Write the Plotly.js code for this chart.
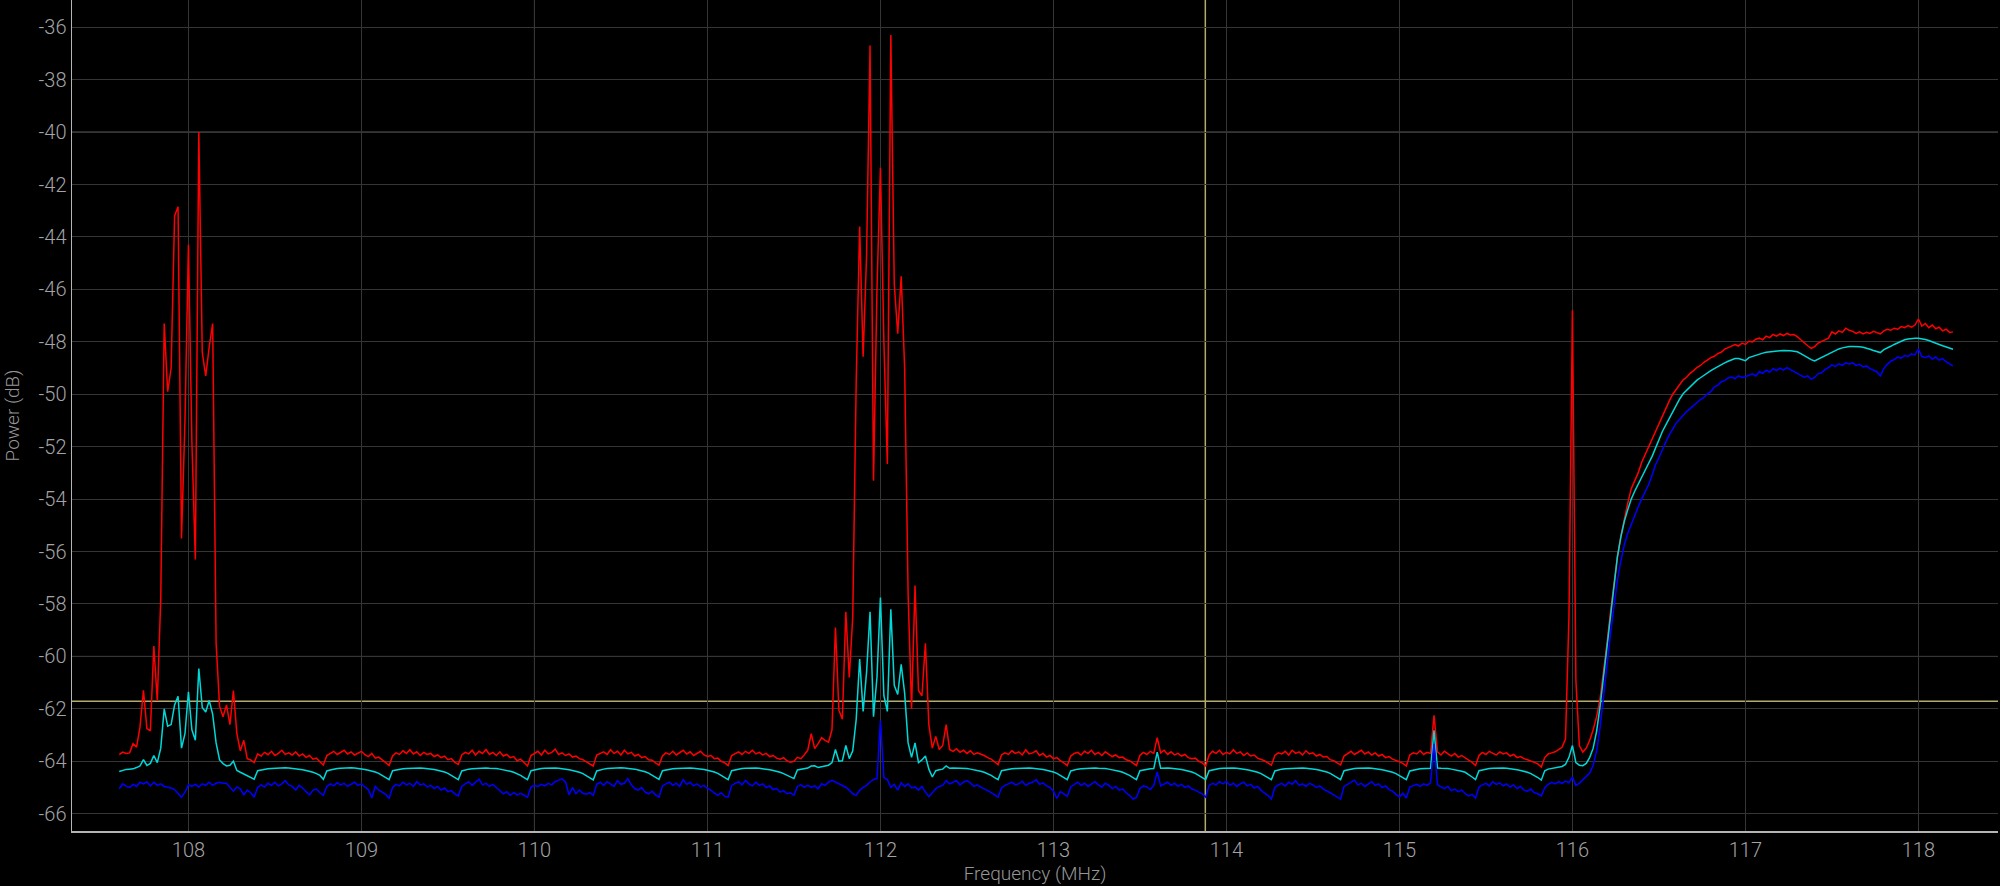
<!DOCTYPE html>
<html><head><meta charset="utf-8">
<script src="https://cdn.plot.ly/plotly-3.0.1.min.js"></script>
<style>html,body{margin:0;padding:0;background:#000;}#chart{width:2000px;height:886px;}</style>
</head><body><div id="chart"></div>
<script>
// Spectrum sampling (MHz)
const freqStart = 107.6;
const freqStep = 0.02;

// Red trace (dB), one value per 0.02 MHz from 107.60 to 118.20
const redTrace = [
-63.75,-63.65,-63.70,-63.68,-63.33,-63.46,-62.70,-61.29,-62.75,-62.84,
-59.60,-61.70,-57.80,-47.30,-49.90,-49.00,-43.20,-42.85,-55.50,-51.00,
-44.30,-51.80,-56.30,-40.00,-48.40,-49.30,-48.20,-47.30,-59.50,-61.90,
-62.30,-61.85,-62.60,-61.30,-62.95,-63.60,-63.20,-63.90,-63.95,-64.05,
-63.72,-63.80,-63.66,-63.75,-63.62,-63.78,-63.70,-63.58,-63.74,-63.68,
-63.76,-63.64,-63.80,-63.72,-63.85,-63.78,-63.92,-63.88,-64.02,-64.14,
-63.78,-63.70,-63.62,-63.74,-63.66,-63.58,-63.72,-63.64,-63.76,-63.68,
-63.62,-63.75,-63.82,-63.70,-63.88,-63.84,-63.96,-64.05,-64.16,-63.80,
-63.68,-63.74,-63.60,-63.70,-63.56,-63.72,-63.64,-63.78,-63.66,-63.74,
-63.70,-63.82,-63.76,-63.86,-63.80,-63.94,-63.90,-64.04,-64.12,-63.76,
-63.66,-63.72,-63.58,-63.76,-63.62,-63.70,-63.55,-63.74,-63.66,-63.78,
-63.64,-63.80,-63.74,-63.86,-63.82,-63.98,-63.92,-64.06,-64.18,-63.78,
-63.70,-63.62,-63.76,-63.58,-63.72,-63.66,-63.54,-63.74,-63.68,-63.78,
-63.72,-63.84,-63.80,-63.90,-63.94,-64.02,-64.08,-64.18,-63.76,-63.70,
-63.64,-63.74,-63.56,-63.70,-63.62,-63.76,-63.58,-63.72,-63.66,-63.80,
-63.74,-63.86,-63.82,-63.94,-63.96,-64.06,-64.15,-63.80,-63.68,-63.74,
-63.62,-63.76,-63.66,-63.58,-63.72,-63.64,-63.78,-63.70,-63.62,-63.76,
-63.82,-63.78,-63.90,-63.88,-64.00,-64.06,-64.16,-63.78,-63.70,-63.64,
-63.74,-63.62,-63.70,-63.58,-63.72,-63.66,-63.76,-63.70,-63.82,-63.78,
-63.88,-63.92,-63.86,-63.98,-64.04,-64.00,-63.85,-63.90,-63.75,-63.58,
-62.95,-63.52,-63.33,-63.10,-63.20,-63.27,-62.80,-58.90,-62.05,-62.40,
-58.30,-60.80,-58.50,-49.50,-43.60,-48.57,-44.70,-36.70,-53.30,-46.00,
-41.36,-48.00,-52.66,-36.30,-45.80,-47.69,-45.50,-49.00,-57.60,-62.00,
-57.30,-61.30,-61.50,-59.50,-62.60,-63.50,-63.05,-63.55,-63.40,-62.60,
-63.55,-63.62,-63.52,-63.66,-63.58,-63.70,-63.60,-63.74,-63.68,-63.72,
-63.78,-63.86,-63.92,-64.02,-64.13,-63.76,-63.68,-63.74,-63.60,-63.70,
-63.64,-63.76,-63.56,-63.72,-63.68,-63.60,-63.78,-63.70,-63.84,-63.78,
-63.90,-63.86,-63.98,-64.06,-64.16,-63.80,-63.70,-63.66,-63.76,-63.62,
-63.70,-63.58,-63.74,-63.66,-63.78,-63.64,-63.72,-63.82,-63.76,-63.86,
-63.84,-63.94,-63.98,-64.08,-64.16,-63.78,-63.66,-63.74,-63.62,-63.70,
-63.10,-63.68,-63.58,-63.74,-63.64,-63.76,-63.70,-63.80,-63.74,-63.86,
-63.90,-63.88,-64.00,-64.06,-64.18,-63.76,-63.62,-63.70,-63.58,-63.74,
-63.66,-63.72,-63.56,-63.70,-63.64,-63.78,-63.68,-63.80,-63.76,-63.88,
-63.92,-63.98,-64.06,-64.15,-63.78,-63.68,-63.72,-63.62,-63.76,-63.58,
-63.70,-63.64,-63.76,-63.60,-63.72,-63.68,-63.80,-63.74,-63.84,-63.82,
-63.94,-63.98,-64.06,-64.14,-63.80,-63.70,-63.62,-63.74,-63.66,-63.58,
-63.72,-63.64,-63.76,-63.68,-63.80,-63.74,-63.86,-63.82,-63.92,-63.96,
-64.02,-64.08,-64.18,-63.76,-63.68,-63.72,-63.60,-63.74,-63.66,-63.70,
-62.25,-63.64,-63.76,-63.62,-63.72,-63.80,-63.70,-63.84,-63.78,-63.88,
-63.96,-64.04,-64.16,-63.78,-63.66,-63.74,-63.62,-63.70,-63.76,-63.64,
-63.72,-63.68,-63.80,-63.74,-63.86,-63.82,-63.90,-63.94,-63.98,-64.04,
-64.10,-64.22,-63.86,-63.72,-63.68,-63.64,-63.56,-63.47,-63.15,-58.50,
-46.80,-60.90,-63.40,-63.65,-63.50,-63.20,-62.80,-62.30,-61.60,-60.60,
-59.50,-58.30,-57.20,-56.20,-55.40,-54.75,-54.15,-53.60,-53.30,-53.00,
-52.60,-52.30,-52.00,-51.75,-51.45,-51.10,-50.80,-50.50,-50.25,-50.00,
-49.80,-49.65,-49.45,-49.35,-49.20,-49.10,-48.98,-48.90,-48.78,-48.70,
-48.60,-48.55,-48.45,-48.40,-48.28,-48.22,-48.15,-48.10,-48.16,-48.05,
-48.10,-47.98,-48.00,-47.90,-47.86,-47.92,-47.78,-47.84,-47.72,-47.78,
-47.70,-47.76,-47.68,-47.74,-47.72,-47.80,-47.92,-48.05,-48.15,-48.25,
-48.18,-48.05,-47.98,-47.92,-47.86,-47.62,-47.70,-47.58,-47.64,-47.48,
-47.56,-47.60,-47.68,-47.62,-47.70,-47.64,-47.68,-47.60,-47.66,-47.70,
-47.58,-47.52,-47.56,-47.48,-47.52,-47.42,-47.46,-47.38,-47.44,-47.36,
-47.13,-47.40,-47.30,-47.46,-47.36,-47.50,-47.44,-47.58,-47.52,-47.64,
-47.62
];

// Cyan trace (dB)
const cyanTrace = [
-64.39,-64.35,-64.31,-64.30,-64.29,-64.24,-64.18,-63.94,-64.16,-64.08,
-63.78,-64.05,-63.50,-62.00,-62.66,-62.60,-61.85,-61.52,-63.50,-62.95,
-61.35,-62.80,-63.20,-60.46,-61.95,-62.12,-61.68,-62.20,-63.30,-63.95,
-64.09,-64.18,-64.15,-64.00,-64.35,-64.42,-64.48,-64.55,-64.62,-64.68,
-64.36,-64.33,-64.31,-64.29,-64.28,-64.27,-64.26,-64.26,-64.25,-64.26,
-64.27,-64.28,-64.30,-64.32,-64.35,-64.38,-64.42,-64.47,-64.54,-64.69,
-64.37,-64.33,-64.30,-64.28,-64.27,-64.26,-64.25,-64.25,-64.26,-64.27,
-64.29,-64.31,-64.34,-64.37,-64.41,-64.46,-64.53,-64.61,-64.70,-64.36,
-64.33,-64.31,-64.29,-64.28,-64.27,-64.26,-64.26,-64.26,-64.27,-64.28,
-64.29,-64.31,-64.34,-64.37,-64.41,-64.46,-64.53,-64.61,-64.70,-64.37,
-64.33,-64.30,-64.29,-64.28,-64.27,-64.26,-64.26,-64.27,-64.27,-64.28,
-64.30,-64.32,-64.35,-64.38,-64.42,-64.47,-64.54,-64.62,-64.70,-64.36,
-64.33,-64.30,-64.28,-64.27,-64.26,-64.26,-64.26,-64.27,-64.28,-64.30,
-64.32,-64.35,-64.38,-64.42,-64.47,-64.54,-64.62,-64.71,-64.37,-64.33,
-64.30,-64.28,-64.27,-64.26,-64.25,-64.25,-64.26,-64.27,-64.28,-64.30,
-64.33,-64.36,-64.40,-64.45,-64.52,-64.60,-64.69,-64.36,-64.33,-64.31,
-64.29,-64.28,-64.27,-64.26,-64.26,-64.26,-64.27,-64.28,-64.29,-64.31,
-64.34,-64.37,-64.41,-64.46,-64.53,-64.61,-64.70,-64.36,-64.33,-64.30,
-64.28,-64.27,-64.26,-64.26,-64.26,-64.27,-64.28,-64.30,-64.32,-64.35,
-64.38,-64.42,-64.47,-64.54,-64.62,-64.66,-64.33,-64.30,-64.28,-64.26,
-64.18,-64.17,-64.24,-64.22,-64.18,-64.15,-64.05,-63.55,-64.00,-63.98,
-63.40,-63.90,-63.60,-62.40,-60.10,-62.10,-60.60,-58.30,-62.30,-60.80,
-57.75,-61.50,-62.10,-58.20,-61.10,-61.45,-60.30,-61.40,-63.30,-63.85,
-63.30,-64.05,-63.95,-63.80,-64.30,-64.60,-64.36,-64.32,-64.30,-64.18,
-64.27,-64.26,-64.26,-64.26,-64.27,-64.28,-64.30,-64.32,-64.35,-64.38,
-64.42,-64.47,-64.54,-64.62,-64.70,-64.36,-64.33,-64.30,-64.29,-64.28,
-64.27,-64.26,-64.26,-64.26,-64.27,-64.28,-64.29,-64.31,-64.34,-64.37,
-64.41,-64.46,-64.53,-64.61,-64.70,-64.37,-64.33,-64.30,-64.29,-64.28,
-64.27,-64.26,-64.26,-64.27,-64.27,-64.28,-64.30,-64.32,-64.35,-64.38,
-64.42,-64.47,-64.54,-64.62,-64.70,-64.36,-64.33,-64.31,-64.29,-64.28,
-63.65,-64.27,-64.26,-64.26,-64.27,-64.28,-64.29,-64.31,-64.34,-64.37,
-64.41,-64.46,-64.53,-64.61,-64.70,-64.36,-64.33,-64.30,-64.28,-64.27,
-64.26,-64.26,-64.26,-64.27,-64.28,-64.30,-64.32,-64.35,-64.38,-64.42,
-64.47,-64.54,-64.62,-64.70,-64.37,-64.33,-64.30,-64.29,-64.28,-64.27,
-64.26,-64.26,-64.26,-64.27,-64.28,-64.29,-64.31,-64.34,-64.37,-64.41,
-64.46,-64.53,-64.61,-64.70,-64.36,-64.33,-64.30,-64.28,-64.27,-64.26,
-64.26,-64.26,-64.27,-64.28,-64.30,-64.32,-64.35,-64.38,-64.42,-64.47,
-64.54,-64.62,-64.70,-64.37,-64.33,-64.31,-64.29,-64.28,-64.27,-64.27,
-62.82,-64.26,-64.27,-64.27,-64.28,-64.30,-64.32,-64.35,-64.38,-64.42,
-64.50,-64.60,-64.70,-64.36,-64.33,-64.30,-64.28,-64.27,-64.26,-64.26,
-64.26,-64.27,-64.28,-64.30,-64.32,-64.35,-64.38,-64.42,-64.47,-64.54,
-64.62,-64.72,-64.36,-64.30,-64.28,-64.26,-64.24,-64.20,-64.12,-63.85,
-63.40,-64.05,-64.15,-64.17,-64.08,-63.85,-63.50,-62.85,-61.90,-60.75,
-59.60,-58.35,-57.10,-56.20,-55.45,-54.85,-54.40,-54.00,-53.70,-53.42,
-53.15,-52.90,-52.64,-52.38,-52.05,-51.72,-51.42,-51.17,-50.92,-50.66,
-50.42,-50.18,-49.98,-49.84,-49.70,-49.57,-49.46,-49.37,-49.27,-49.19,
-49.10,-49.02,-48.94,-48.87,-48.80,-48.74,-48.68,-48.64,-48.64,-48.67,
-48.72,-48.60,-48.55,-48.50,-48.46,-48.43,-48.40,-48.38,-48.36,-48.35,
-48.34,-48.33,-48.33,-48.34,-48.36,-48.38,-48.45,-48.53,-48.60,-48.68,
-48.73,-48.66,-48.60,-48.55,-48.48,-48.40,-48.33,-48.27,-48.23,-48.20,
-48.18,-48.18,-48.18,-48.19,-48.21,-48.24,-48.28,-48.33,-48.37,-48.41,
-48.30,-48.22,-48.17,-48.10,-48.03,-47.97,-47.92,-47.89,-47.87,-47.86,
-47.86,-47.88,-47.91,-47.95,-47.99,-48.04,-48.10,-48.15,-48.20,-48.24,
-48.28
];

// Blue trace (dB)
const blueTrace = [
-65.05,-64.86,-64.95,-65.00,-64.88,-64.96,-64.80,-64.86,-64.78,-64.94,
-64.80,-64.92,-64.86,-64.96,-64.99,-65.02,-65.08,-65.24,-65.37,-65.18,
-64.90,-64.96,-64.88,-64.98,-64.86,-64.92,-64.80,-64.92,-64.84,-64.80,
-64.84,-64.84,-64.98,-65.14,-64.98,-65.05,-65.28,-65.10,-65.20,-65.37,
-65.00,-64.90,-64.98,-64.84,-64.92,-64.80,-64.94,-64.86,-64.74,-64.90,
-64.96,-65.10,-64.92,-65.02,-65.16,-65.28,-65.10,-65.06,-65.20,-65.30,
-64.96,-64.86,-64.94,-64.82,-64.90,-64.84,-64.96,-64.88,-64.80,-64.92,
-64.86,-64.98,-65.08,-65.40,-64.96,-65.10,-65.18,-65.26,-65.42,-65.00,
-64.88,-64.94,-64.80,-64.90,-64.84,-64.96,-64.78,-64.90,-64.86,-64.98,
-64.92,-65.04,-64.96,-65.10,-65.02,-65.16,-65.12,-65.24,-65.32,-64.96,
-64.86,-64.78,-64.92,-64.80,-64.68,-64.90,-64.84,-64.96,-64.88,-65.00,
-65.12,-65.24,-65.16,-65.30,-65.20,-65.28,-65.22,-65.30,-65.37,-64.98,
-64.92,-64.96,-64.88,-64.94,-64.84,-64.90,-64.78,-64.72,-64.67,-64.80,
-65.28,-65.00,-65.24,-65.10,-65.22,-65.26,-65.20,-65.30,-64.88,-64.80,
-64.92,-64.78,-64.86,-64.96,-64.74,-64.88,-64.84,-64.66,-64.90,-65.04,
-65.10,-65.00,-65.18,-65.24,-65.14,-65.28,-65.37,-64.94,-64.86,-64.80,
-64.92,-64.84,-64.96,-64.70,-64.88,-64.80,-64.94,-64.86,-64.98,-64.92,
-65.04,-65.10,-65.22,-65.30,-65.20,-65.34,-65.37,-64.92,-64.84,-64.78,
-64.90,-64.73,-64.86,-64.94,-64.80,-64.92,-64.86,-65.00,-64.94,-65.08,
-65.04,-65.18,-65.12,-65.24,-65.20,-65.30,-64.96,-64.90,-64.99,-64.92,
-64.99,-64.94,-65.05,-64.86,-64.92,-64.80,-64.73,-64.79,-64.88,-64.94,
-64.99,-65.10,-65.24,-65.30,-65.11,-65.00,-64.92,-64.79,-64.70,-64.66,
-62.45,-64.62,-64.70,-64.99,-64.88,-65.10,-64.82,-64.96,-64.86,-65.02,
-64.98,-65.10,-64.96,-65.18,-65.35,-65.20,-65.05,-64.96,-64.92,-64.74,
-64.86,-64.80,-64.74,-64.90,-64.80,-64.74,-64.82,-64.96,-64.90,-64.99,
-65.04,-65.12,-65.20,-65.28,-65.37,-65.02,-64.92,-64.86,-64.80,-64.90,
-64.86,-64.76,-64.92,-64.84,-64.80,-64.70,-64.88,-64.82,-64.94,-65.00,
-65.14,-65.42,-65.16,-65.24,-65.34,-64.98,-64.88,-64.80,-64.92,-64.84,
-64.96,-64.86,-64.78,-64.90,-64.98,-64.84,-64.92,-65.04,-64.96,-65.10,
-65.06,-65.20,-65.30,-65.44,-65.38,-65.04,-64.94,-64.98,-65.08,-64.92,
-64.41,-64.94,-64.86,-64.80,-64.92,-64.84,-64.96,-64.88,-65.00,-64.94,
-65.06,-65.10,-65.18,-65.24,-65.37,-64.92,-64.84,-64.90,-64.78,-64.86,
-64.76,-64.92,-64.84,-64.96,-64.86,-64.80,-64.94,-64.88,-65.02,-64.96,
-65.10,-65.22,-65.30,-65.44,-65.00,-64.90,-64.84,-64.94,-64.80,-64.88,
-64.74,-64.92,-64.86,-64.96,-64.84,-64.90,-65.00,-64.94,-65.06,-65.12,
-65.20,-65.28,-65.36,-65.44,-64.96,-64.88,-64.82,-64.72,-64.90,-64.84,
-64.96,-64.86,-64.78,-64.92,-64.86,-65.00,-64.94,-65.08,-65.14,-65.26,
-65.36,-65.22,-65.40,-64.98,-64.94,-64.88,-64.96,-64.86,-64.92,-64.82,
-63.33,-64.90,-64.98,-65.04,-64.96,-65.12,-65.06,-65.16,-65.10,-65.24,
-65.32,-65.26,-65.40,-64.98,-64.90,-64.84,-64.94,-64.78,-64.88,-64.82,
-64.94,-64.86,-64.98,-64.90,-65.04,-64.96,-65.10,-65.14,-65.06,-65.20,
-65.24,-65.32,-65.02,-64.88,-64.80,-64.86,-64.78,-64.84,-64.76,-64.82,
-64.60,-64.92,-64.84,-64.70,-64.58,-64.45,-64.15,-63.60,-62.70,-61.60,
-60.35,-59.15,-58.10,-57.10,-56.35,-55.75,-55.30,-54.95,-54.65,-54.30,
-54.00,-53.75,-53.45,-53.10,-52.70,-52.42,-52.10,-51.82,-51.55,-51.30,
-51.10,-50.95,-50.80,-50.66,-50.55,-50.42,-50.30,-50.20,-50.12,-49.98,
-49.90,-49.72,-49.66,-49.52,-49.48,-49.38,-49.34,-49.40,-49.30,-49.36,
-49.33,-49.28,-49.22,-49.30,-49.14,-49.20,-49.08,-49.16,-49.02,-49.10,
-49.00,-49.08,-48.98,-49.06,-49.12,-49.20,-49.28,-49.35,-49.30,-49.42,
-49.36,-49.22,-49.18,-49.06,-48.98,-48.88,-48.94,-48.84,-48.90,-48.80,
-48.84,-48.80,-48.90,-48.86,-48.96,-48.92,-49.02,-49.08,-49.14,-49.30,
-49.02,-48.86,-48.74,-48.68,-48.58,-48.62,-48.52,-48.56,-48.46,-48.50,
-48.28,-48.56,-48.60,-48.54,-48.66,-48.58,-48.70,-48.64,-48.76,-48.84,
-48.92
];

// Axis ticks
const xTickVals = [108,109,110,111,112,113,114,115,116,117,118];
const yTickVals = [-66,-64,-62,-60,-58,-56,-54,-52,-50,-48,-46,-44,-42,-40,-38,-36];
const yTickText = ['-66','-64','-62','-60','-58','-56','-54','-52','-50','-48','-46','-44','-42','-40','-38','-36'];

// Reference markers
const markerFreq = 113.878;
const markerLevel = -61.71;
const majorGridX = [110];
const majorGridY = [-60, -40];

const lineTrace = (vals, color) => ({
  type: 'scatter', mode: 'lines', y: vals, x0: freqStart, dx: freqStep,
  line: {color: color, width: 1.5}, hoverinfo: 'skip'
});

const shapes = [];
majorGridX.forEach(v => shapes.push({type:'line', xref:'x', yref:'paper', x0:v, x1:v, y0:0, y1:1, line:{color:'#727272', width:1}, layer:'between'}));
majorGridY.forEach(v => shapes.push({type:'line', xref:'paper', yref:'y', x0:0, x1:1, y0:v, y1:v, line:{color:'#727272', width:1}, layer:'between'}));
shapes.push({type:'line', xref:'x', yref:'paper', x0:markerFreq, x1:markerFreq, y0:0, y1:1, line:{color:'#b3ab6c', width:1.5}, layer:'between'});
shapes.push({type:'line', xref:'paper', yref:'y', x0:0, x1:1, y0:markerLevel, y1:markerLevel, line:{color:'#b3ab6c', width:1.5}, layer:'between'});

const tickFont = {family:'Roboto, sans-serif', size:20, color:'#a4a4a4', weight:300};
const titleFont = {family:'Roboto, sans-serif', size:19, color:'#969696', weight:300};

const layout = {
  width: 2000, height: 886,
  paper_bgcolor: '#000', plot_bgcolor: '#000',
  margin: {l:72, r:2, t:0, b:55},
  showlegend: false,
  shapes: shapes,
  xaxis: {
    range: [107.327, 118.46], tickmode:'array', tickvals: xTickVals,
    showgrid: true, gridcolor:'#353535', gridwidth:1, zeroline:false,
    showline: true, linecolor:'#b4b4b4', linewidth:1.5, ticks:'',
    tickfont: tickFont,
    title: {text:'Frequency (MHz)', font: titleFont, standoff: 6}
  },
  yaxis: {
    range: [-66.66, -34.96], tickmode:'array', tickvals: yTickVals, ticktext: yTickText,
    showgrid: true, gridcolor:'#353535', gridwidth:1, zeroline:false,
    showline: true, linecolor:'#b4b4b4', linewidth:1.5, ticks:'',
    tickfont: tickFont,
    title: {text:'Power (dB)', font: titleFont, standoff: 14}
  }
};

Plotly.newPlot('chart', [
  lineTrace(redTrace, '#ff0000'),
  lineTrace(cyanTrace, '#00d8d8'),
  lineTrace(blueTrace, '#0000ff')
], layout, {staticPlot: true, displayModeBar: false});
</script>
</body></html>
